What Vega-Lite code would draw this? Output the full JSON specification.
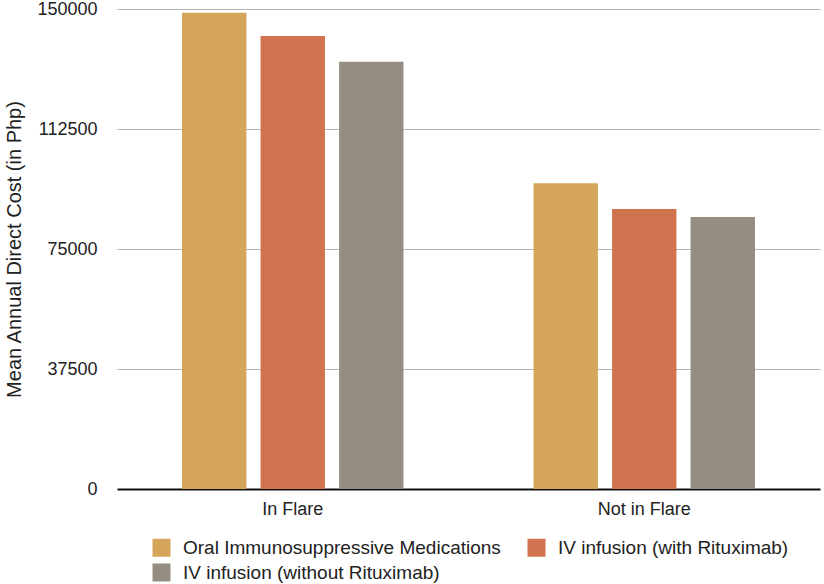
{
  "$schema": "https://vega.github.io/schema/vega-lite/v6.json",
  "autosize": "none",
  "width": 703,
  "height": 480,
  "padding": {"left": 117, "top": 9, "right": 4, "bottom": 95},
  "background": "white",
  "data": {
    "values": [
      {"status": "In Flare", "treatment": "Oral Immunosuppressive Medications", "cost": 148850},
      {"status": "In Flare", "treatment": "IV infusion (with Rituximab)", "cost": 141560},
      {"status": "In Flare", "treatment": "IV infusion (without Rituximab)", "cost": 133540},
      {"status": "Not in Flare", "treatment": "Oral Immunosuppressive Medications", "cost": 95520},
      {"status": "Not in Flare", "treatment": "IV infusion (with Rituximab)", "cost": 87500},
      {"status": "Not in Flare", "treatment": "IV infusion (without Rituximab)", "cost": 85000}
    ]
  },
  "mark": {"type": "bar"},
  "encoding": {
    "x": {
      "field": "status",
      "type": "nominal",
      "sort": ["In Flare", "Not in Flare"],
      "scale": {"paddingInner": 0.37, "paddingOuter": 0.185},
      "axis": {
        "title": null,
        "labelAngle": 0,
        "labelFontSize": 18,
        "labelColor": "#222222",
        "labelPadding": 11,
        "ticks": false,
        "domainColor": "#111111",
        "domainWidth": 2
      }
    },
    "xOffset": {
      "field": "treatment",
      "type": "nominal",
      "sort": ["Oral Immunosuppressive Medications", "IV infusion (with Rituximab)", "IV infusion (without Rituximab)"],
      "scale": {"paddingInner": 0.18, "paddingOuter": 0}
    },
    "y": {
      "field": "cost",
      "type": "quantitative",
      "scale": {"domain": [0, 150000]},
      "axis": {
        "title": "Mean Annual Direct Cost (in Php)",
        "titleFontSize": 20,
        "titleFontWeight": "normal",
        "titleColor": "#222222",
        "titlePadding": 12,
        "values": [0, 37500, 75000, 112500, 150000],
        "format": "d",
        "labelFontSize": 18,
        "labelColor": "#222222",
        "labelPadding": 20,
        "ticks": false,
        "domain": false,
        "gridColor": "#b5b5b5",
        "gridWidth": 1
      }
    },
    "color": {
      "field": "treatment",
      "type": "nominal",
      "scale": {
        "domain": ["Oral Immunosuppressive Medications", "IV infusion (without Rituximab)", "IV infusion (with Rituximab)"],
        "range": ["#d4a55a", "#968d82", "#d0734e"]
      },
      "legend": {
        "title": null,
        "orient": "none",
        "legendX": 35,
        "legendY": 529,
        "columns": 2,
        "columnPadding": 26,
        "rowPadding": 5,
        "symbolType": "square",
        "symbolSize": 324,
        "symbolStrokeWidth": 0,
        "symbolOpacity": 1,
        "labelFontSize": 19,
        "labelLimit": 0,
        "labelColor": "#222222",
        "labelOffset": 12
      }
    }
  },
  "config": {
    "font": "Liberation Sans",
    "view": {"stroke": null}
  }
}
